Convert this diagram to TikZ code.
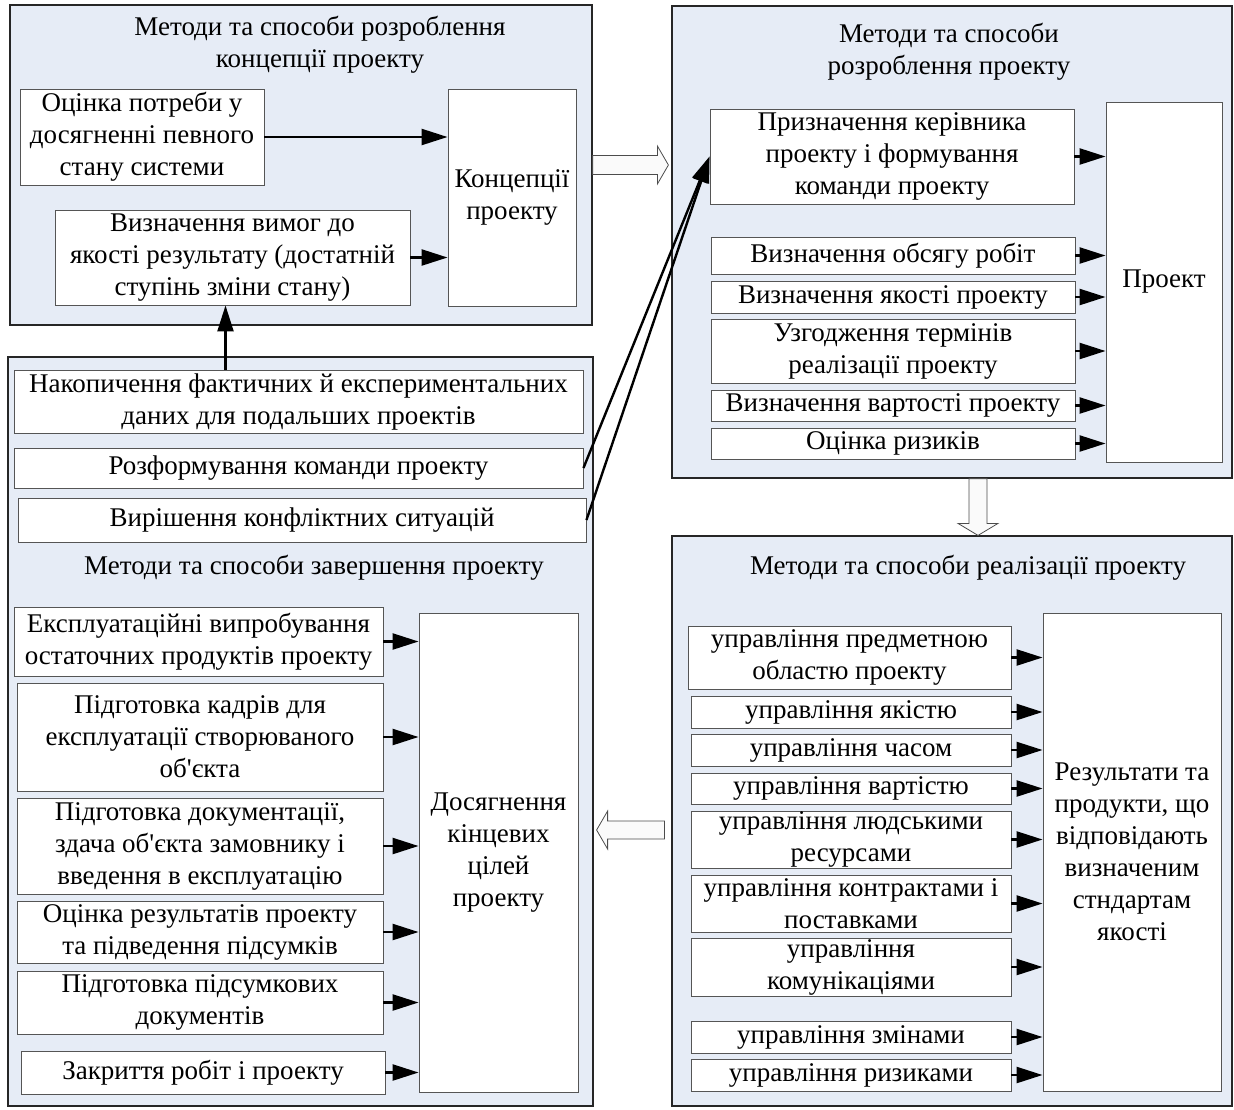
\documentclass[tikz,border=0pt]{standalone}
\usepackage{fontspec}
\setmainfont{Liberation Serif}
\usetikzlibrary{positioning,calc,arrows.meta}
\definecolor{panelblue}{RGB}{230,236,246}
\definecolor{boxline}{RGB}{85,85,85}
\definecolor{hollowfill}{RGB}{250,250,250}

\begin{document}
\begin{tikzpicture}[x=1pt,y=-1pt,
    panel/.style={draw=black!85, fill=panelblue, line width=1.2pt, inner sep=0pt},
    box/.style={draw=boxline, fill=white, line width=0.9pt, inner sep=0pt, align=center, font=\fontsize{27}{32}\selectfont},
    title/.style={align=center, font=\fontsize{27}{32}\selectfont},
    conn/.style={line width=2.4pt, -{Triangle[length=26pt,width=16pt]}},
    hollow/.style={draw=black!70, fill=hollowfill, line width=0.8pt, line join=miter}]
    \useasboundingbox (0,0) rectangle (1234,1109);

    % Panels
    \node[panel, minimum width=582, minimum height=320] (pconc) at (301,165) {};
    \node[panel, minimum width=560, minimum height=472] (pdev) at (952,242) {};
    \node[panel, minimum width=560, minimum height=570] (pimpl) at (952,821) {};
    \node[panel, minimum width=585, minimum height=749] (pfin) at (300.5,731.5) {};

    % Concept of the project
    \node[title] (tconc) at (320,45) {Методи та способи розроблення\\концепції проекту};
    \node[box, minimum width=244, minimum height=96] (need) at (142,137) {Оцінка потреби у\\досягненні певного\\стану системи};
    \node[box, minimum width=355, minimum height=95] (req) at (232.5,257.5) {Визначення вимог до\\якості результату (достатній\\ступінь зміни стану)};
    \node[box, minimum width=128, minimum height=217] (concept) at (512,197.5) {Концепції\\проекту};
    \draw[conn] (need.east) -- (need.east -| concept.west);
    \draw[conn] (req.east) -- (req.east -| concept.west);

    % Development of the project
    \node[title] (tdev) at (949,52) {Методи та способи\\розроблення проекту};
    \node[box, minimum width=364, minimum height=95] (lead) at (892,156.5) {Призначення керівника\\проекту і формування\\команди проекту};
    \node[box, minimum width=364, minimum height=37] (scope) at (893,255.5) {Визначення обсягу робіт};
    \node[box, minimum width=364, minimum height=32] (qual) at (893,297) {Визначення якості проекту};
    \node[box, minimum width=364, minimum height=64] (terms) at (893,351) {Узгодження термінів\\реалізації проекту};
    \node[box, minimum width=364, minimum height=31] (cost) at (893,405.5) {Визначення вартості проекту};
    \node[box, minimum width=364, minimum height=31] (risk) at (893,443.5) {Оцінка ризиків};
    \node[box, minimum width=116, minimum height=360] (proj) at (1164,282) {Проект};
    \draw[conn] (lead.east) -- (lead.east -| proj.west);
    \draw[conn] (scope.east) -- (scope.east -| proj.west);
    \draw[conn] (qual.east) -- (qual.east -| proj.west);
    \draw[conn] (terms.east) -- (terms.east -| proj.west);
    \draw[conn] (cost.east) -- (cost.east -| proj.west);
    \draw[conn] (risk.east) -- (risk.east -| proj.west);

    % Implementation of the project
    \node[title] (timpl) at (968,568) {Методи та способи реалізації проекту};
    \node[box, minimum width=323, minimum height=63] (subj) at (849.5,657.5) {управління предметною\\областю проекту};
    \node[box, minimum width=320, minimum height=32] (mqual) at (851,712) {управління якістю};
    \node[box, minimum width=320, minimum height=32] (mtime) at (851,750) {управління часом};
    \node[box, minimum width=320, minimum height=31] (mcost) at (851,788.5) {управління вартістю};
    \node[box, minimum width=320, minimum height=57] (mhr) at (851,839.5) {управління людськими\\ресурсами};
    \node[box, minimum width=320, minimum height=57] (mcontr) at (851,903.5) {управління контрактами і\\поставками};
    \node[box, minimum width=320, minimum height=58] (mcomm) at (851,967) {управління\\комунікаціями};
    \node[box, minimum width=320, minimum height=32] (mchg) at (851,1037) {управління змінами};
    \node[box, minimum width=320, minimum height=32] (mrisk) at (851,1075) {управління ризиками};
    \node[box, minimum width=178, minimum height=478] (result) at (1132,852) {Результати та\\продукти, що\\відповідають\\визначеним\\стндартам\\якості};
    \draw[conn] (subj.east) -- (subj.east -| result.west);
    \draw[conn] (mqual.east) -- (mqual.east -| result.west);
    \draw[conn] (mtime.east) -- (mtime.east -| result.west);
    \draw[conn] (mcost.east) -- (mcost.east -| result.west);
    \draw[conn] (mhr.east) -- (mhr.east -| result.west);
    \draw[conn] (mcontr.east) -- (mcontr.east -| result.west);
    \draw[conn] (mcomm.east) -- (mcomm.east -| result.west);
    \draw[conn] (mchg.east) -- (mchg.east -| result.west);
    \draw[conn] (mrisk.east) -- (mrisk.east -| result.west);

    % Completion of the project
    \node[box, minimum width=569, minimum height=63] (accum) at (298.5,401.5) {Накопичення фактичних й експериментальних\\даних для подальших проектів};
    \node[box, minimum width=569, minimum height=40] (disband) at (298.5,468) {Розформування команди проекту};
    \node[box, minimum width=568, minimum height=44] (conflict) at (302,520) {Вирішення конфліктних ситуацій};
    \node[title] (tfin) at (314,568) {Методи та способи завершення проекту};
    \node[box, minimum width=369, minimum height=69] (ops) at (198.5,641.5) {Експлуатаційні випробування\\остаточних продуктів проекту};
    \node[box, minimum width=366, minimum height=108] (staff) at (200,737) {Підготовка кадрів для\\експлуатації створюваного\\об\textquotesingle єкта};
    \node[box, minimum width=366, minimum height=96] (docs) at (200,846) {Підготовка документації,\\здача об\textquotesingle єкта замовнику і\\введення в експлуатацію};
    \node[box, minimum width=366, minimum height=62] (eval) at (200,932) {Оцінка результатів проекту\\та підведення підсумків};
    \node[box, minimum width=366, minimum height=63] (final) at (200,1002.5) {Підготовка підсумкових\\документів};
    \node[box, minimum width=364, minimum height=43] (close) at (203,1072.5) {Закриття робіт і проекту};
    \node[box, minimum width=159, minimum height=479] (goal) at (498.5,852.5) {Досягнення\\кінцевих\\цілей\\проекту};
    \draw[conn] (ops.east) -- (ops.east -| goal.west);
    \draw[conn] (staff.east) -- (staff.east -| goal.west);
    \draw[conn] (docs.east) -- (docs.east -| goal.west);
    \draw[conn] (eval.east) -- (eval.east -| goal.west);
    \draw[conn] (final.east) -- (final.east -| goal.west);
    \draw[conn] (close.east) -- (close.east -| goal.west);

    % Feedback links
    \coordinate (up) at ([xshift=-7pt]req.south);
    \draw[conn] (up |- accum.north) -- (up);
    \draw[conn] (disband.east) -- (lead.west);
    \draw[conn] (conflict.east) -- (lead.west);

    % Hollow arrows between the panels
    \coordinate (ra) at (pconc.east);
    \coordinate (rb) at ($(pconc.east -| pdev.west)+(-3,0)$);
    \draw[hollow] ($(ra)+(0,-9.5)$) -- ($(rb)+(-11,-9.5)$) -- ($(rb)+(-11,-19)$) -- (rb)
        -- ($(rb)+(-11,19)$) -- ($(rb)+(-11,9.5)$) -- ($(ra)+(0,9.5)$) -- cycle;
    \coordinate (da) at ($(pdev.south)+(26,0)$);
    \coordinate (db) at ($(pimpl.north)+(26,0)$);
    \draw[hollow] ($(da)+(-9,0)$) -- ($(db)+(-9,-12)$) -- ($(db)+(-20,-12)$) -- (db)
        -- ($(db)+(20,-12)$) -- ($(db)+(9,-12)$) -- ($(da)+(9,0)$) -- cycle;
    \coordinate (la) at ($(pimpl.west)+(-7,9)$);
    \coordinate (lb) at ($(la -| pfin.east)+(3,0)$);
    \draw[hollow] ($(la)+(0,-9)$) -- ($(lb)+(11,-9)$) -- ($(lb)+(11,-19)$) -- (lb)
        -- ($(lb)+(11,19)$) -- ($(lb)+(11,9)$) -- ($(la)+(0,9)$) -- cycle;
\end{tikzpicture}
\end{document}
